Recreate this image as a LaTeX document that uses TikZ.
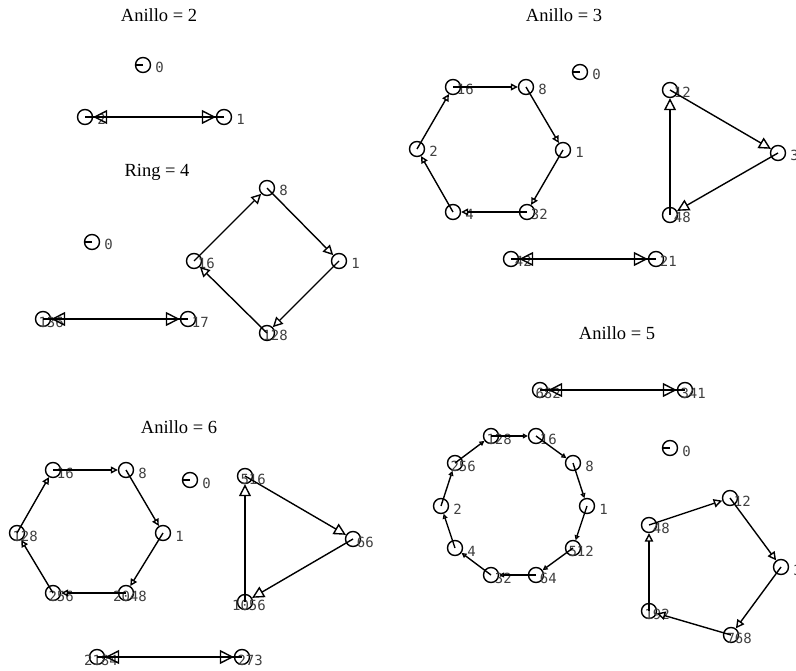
\documentclass[tikz,border=0pt]{standalone}
\usepackage{fontspec}
\setmainfont{Liberation Serif}
\newfontfamily\lblfont{DejaVu Sans Mono}
\usetikzlibrary{arrows.meta}
\tikzset{
  gnode/.style={circle,draw,line width=1.4pt,minimum size=15pt,inner sep=0pt},
  lbl/.style={font=\lblfont\fontsize{14}{15}\selectfont,text=black!75,inner sep=0pt,anchor=base east},
  ttl/.style={font=\fontsize{18.5}{20}\selectfont,inner sep=0pt,anchor=base},
  ar/.style={line width=1.4pt,line join=miter,-{Triangle[open,length=#1pt,width=#1pt,line width=1.4pt]}},
  hand/.style={line width=1.4pt}
}
\newcommand\gn[4]{\node[gnode] (#1) at (#2,#3) {}; \node[lbl] (#1l) at (#2+21,#3+8) {#4};}
\begin{document}
\begin{tikzpicture}[x=1pt,y=-1pt]
\useasboundingbox (0,0) rectangle (796,671);
\clip (0,0) rectangle (796,671);
% titles
\node[ttl] (t2) at (159,22) {Anillo = 2};
\node[ttl] (t3) at (564,22) {Anillo = 3};
\node[ttl] (t4) at (157,177) {Ring = 4};
\node[ttl] (t5) at (617,340) {Anillo = 5};
\node[ttl] (t6) at (179,433) {Anillo = 6};
% ---- ring 2
\gn{a0}{143}{65}{0}
\draw[hand] (a0.center) -- (a0.west);
\gn{a2}{85}{117}{2}
\gn{a1}{224}{117}{1}
\draw[ar=14] (a2.center) -- (a1);
\draw[ar=14] (a1.center) -- (a2);
% ---- ring 4
\gn{b0}{92}{242}{0}
\draw[hand] (b0.center) -- (b0.west);
\gn{b8}{267}{188}{8}
\gn{b16}{194}{261}{16}
\gn{b1}{339}{261}{1}
\gn{b128}{267}{333}{128}
\draw[ar=10] (b16.center) -- (b8);
\draw[ar=10] (b8.center) -- (b1);
\draw[ar=10] (b1.center) -- (b128);
\draw[ar=10] (b128.center) -- (b16);
\gn{b136}{43}{319}{136}
\gn{b17}{188}{319}{17}
\draw[ar=14] (b136.center) -- (b17);
\draw[ar=14] (b17.center) -- (b136);
% ---- ring 3
\gn{c0}{580}{72}{0}
\draw[hand] (c0.center) -- (c0.west);
\gn{c16}{453}{87}{16}
\gn{c8}{526}{87}{8}
\gn{c1}{563}{150}{1}
\gn{c32}{527}{212}{32}
\gn{c4}{453}{212}{4}
\gn{c2}{417}{149}{2}
\draw[ar=7] (c16.center) -- (c8);
\draw[ar=7] (c8.center) -- (c1);
\draw[ar=7] (c1.center) -- (c32);
\draw[ar=7] (c32.center) -- (c4);
\draw[ar=7] (c4.center) -- (c2);
\draw[ar=7] (c2.center) -- (c16);
\gn{c12}{670}{90}{12}
\gn{c3}{778}{153}{3}
\gn{c48}{670}{215}{48}
\draw[ar=12] (c48.center) -- (c12);
\draw[ar=12] (c12.center) -- (c3);
\draw[ar=12] (c3.center) -- (c48);
\gn{c42}{511}{259}{42}
\gn{c21}{656}{259}{21}
\draw[ar=14] (c42.center) -- (c21);
\draw[ar=14] (c21.center) -- (c42);
% ---- ring 5
\gn{d682}{540}{390}{682}
\gn{d341}{685}{390}{341}
\draw[ar=14] (d682.center) -- (d341);
\draw[ar=14] (d341.center) -- (d682);
\gn{d0}{670}{448}{0}
\draw[hand] (d0.center) -- (d0.west);
\gn{d128}{491}{436}{128}
\gn{d16}{536}{436}{16}
\gn{d8}{573}{463}{8}
\gn{d1}{587}{506}{1}
\gn{d512}{573}{548}{512}
\gn{d64}{536}{575}{64}
\gn{d32}{491}{575}{32}
\gn{d4}{455}{548}{4}
\gn{d2}{441}{506}{2}
\gn{d256}{455}{463}{256}
\draw[ar=5] (d128.center) -- (d16);
\draw[ar=5] (d16.center) -- (d8);
\draw[ar=5] (d8.center) -- (d1);
\draw[ar=5] (d1.center) -- (d512);
\draw[ar=5] (d512.center) -- (d64);
\draw[ar=5] (d64.center) -- (d32);
\draw[ar=5] (d32.center) -- (d4);
\draw[ar=5] (d4.center) -- (d2);
\draw[ar=5] (d2.center) -- (d256);
\draw[ar=5] (d256.center) -- (d128);
\gn{d48}{649}{525}{48}
\gn{d12}{730}{498}{12}
\gn{d3}{781}{567}{3}
\gn{d768}{731}{635}{768}
\gn{d192}{649}{611}{192}
\draw[ar=8.5] (d48.center) -- (d12);
\draw[ar=8.5] (d12.center) -- (d3);
\draw[ar=8.5] (d3.center) -- (d768);
\draw[ar=8.5] (d768.center) -- (d192);
\draw[ar=8.5] (d192.center) -- (d48);
% ---- ring 6
\gn{e0}{190}{480}{0}
\draw[hand] (e0.center) -- (e0.west);
\gn{e16}{53}{470}{16}
\gn{e8}{126}{470}{8}
\gn{e1}{163}{533}{1}
\gn{e2048}{126}{593}{2048}
\gn{e256}{53}{593}{256}
\gn{e128}{17}{533}{128}
\draw[ar=7] (e16.center) -- (e8);
\draw[ar=7] (e8.center) -- (e1);
\draw[ar=7] (e1.center) -- (e2048);
\draw[ar=7] (e2048.center) -- (e256);
\draw[ar=7] (e256.center) -- (e128);
\draw[ar=7] (e128.center) -- (e16);
\gn{e516}{245}{476}{516}
\gn{e66}{353}{539}{66}
\gn{e1056}{245}{602}{1056}
\draw[ar=12] (e516.center) -- (e66);
\draw[ar=12] (e66.center) -- (e1056);
\draw[ar=12] (e1056.center) -- (e516);
\gn{e2184}{97}{657}{2184}
\gn{e273}{242}{657}{273}
\draw[ar=14] (e2184.center) -- (e273);
\draw[ar=14] (e273.center) -- (e2184);
\end{tikzpicture}
\end{document}
